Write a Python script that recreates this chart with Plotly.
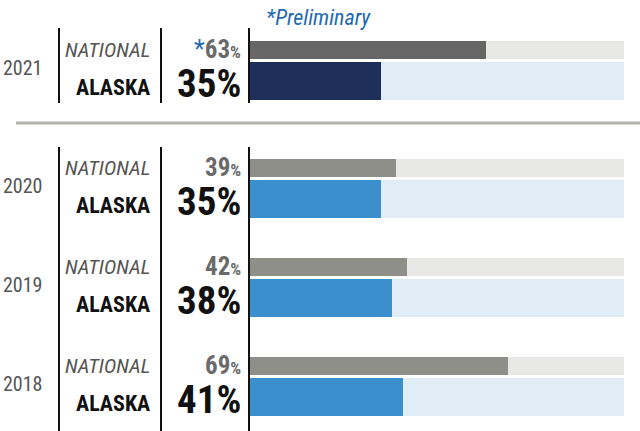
import plotly.graph_objects as go

# Data
years = ["2021", "2020", "2019", "2018"]
national = [63, 39, 42, 69]
alaska = [35, 35, 38, 41]
preliminary = [True, False, False, False]

W, H = 640, 431
NAT_H, AK_H, GAP = 18, 38, 3
FONT = "Roboto Condensed, Roboto, sans-serif"

# row tops in pixel units (y axis runs 0..431 top to bottom)
tops = [41 + 99 * i + (19 if i > 0 else 0) for i in range(len(years))]
nat_y = [t + NAT_H / 2 for t in tops]
ak_y = [t + NAT_H + GAP + AK_H / 2 for t in tops]

nat_col = ["#666666" if p else "#8f8f8a" for p in preliminary]
ak_col = ["#1f2f5c" if p else "#3b8fcd" for p in preliminary]

fig = go.Figure()

# background tracks (100%)
fig.add_trace(go.Bar(x=[100] * len(years), y=nat_y, orientation="h", width=NAT_H,
                     marker=dict(color="#e8e8e6", line=dict(width=0)), hoverinfo="skip"))
fig.add_trace(go.Bar(x=[100] * len(years), y=ak_y, orientation="h", width=AK_H,
                     marker=dict(color="#e0ecf6", line=dict(width=0)), hoverinfo="skip"))
# values
fig.add_trace(go.Bar(x=national, y=nat_y, orientation="h", width=NAT_H,
                     marker=dict(color=nat_col, line=dict(width=0)), name="National"))
fig.add_trace(go.Bar(x=alaska, y=ak_y, orientation="h", width=AK_H,
                     marker=dict(color=ak_col, line=dict(width=0)), name="Alaska"))


def px(x):
    return x / W


ann = []
for i, yr in enumerate(years):
    t = tops[i]
    ann.append(dict(x=px(45), y=t + 27, text=yr, xanchor="right", yanchor="middle",
                    font=dict(family=FONT, size=20, color="#555555")))
    ann.append(dict(x=px(152), y=nat_y[i], text="<i>NATIONAL</i>", xanchor="right", yanchor="middle",
                    font=dict(family=FONT, size=21, color="#555555")))
    ann.append(dict(x=px(152), y=ak_y[i] + 6.5, text="<b>ALASKA</b>", xanchor="right", yanchor="middle",
                    font=dict(family=FONT, size=22, color="#111111")))
    star = "<span style='color:#1f6ab5'>*</span>" if preliminary[i] else ""
    ann.append(dict(x=px(243), y=nat_y[i] - 1, xanchor="right", yanchor="middle",
                    text=star + "<b>%d</b><span style='font-size:17px'><b>%%</b></span>" % national[i],
                    font=dict(family=FONT, size=25, color="#6a6a6a")))
    ann.append(dict(x=px(243), y=ak_y[i] + 3, xanchor="right", yanchor="middle",
                    text="<b>%d%%</b>" % alaska[i],
                    font=dict(family=FONT, size=39, color="#111111")))

ann.append(dict(x=px(264), y=17, text="<i>*Preliminary</i>", xanchor="left", yanchor="middle",
                font=dict(family=FONT, size=22, color="#1f6ab5")))
for a in ann:
    a.update(xref="paper", yref="y", showarrow=False)

shapes = []
# vertical dividers
for xv in [59, 161, 249]:
    shapes.append(dict(type="line", xref="paper", yref="y", x0=px(xv), x1=px(xv), y0=28, y1=103,
                       line=dict(color="#111111", width=2)))
    shapes.append(dict(type="line", xref="paper", yref="y", x0=px(xv), x1=px(xv), y0=147, y1=H,
                       line=dict(color="#111111", width=2)))
# separator under the preliminary year
shapes.append(dict(type="line", xref="paper", yref="y", x0=px(16), x1=1, y0=123, y1=123,
                   line=dict(color="#b3b3ab", width=3)))

fig.update_layout(
    width=W, height=H,
    margin=dict(l=0, r=0, t=0, b=0),
    barmode="overlay",
    bargap=0,
    showlegend=False,
    plot_bgcolor="white", paper_bgcolor="white",
    xaxis=dict(domain=[250 / W, 624 / W], range=[0, 100], visible=False, fixedrange=True),
    yaxis=dict(range=[H, 0], visible=False, fixedrange=True),
    annotations=ann,
    shapes=shapes,
)

fig.write_html("out.html", config={"displayModeBar": False},
               post_script="document.body.style.margin='0';")
